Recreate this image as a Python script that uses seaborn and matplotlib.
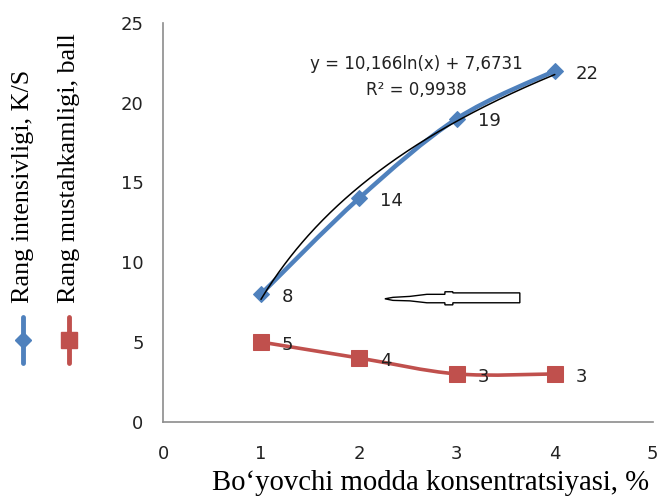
import numpy as np
import pandas as pd
import seaborn as sns
import matplotlib.pyplot as plt
from matplotlib.lines import Line2D
from matplotlib.patches import Polygon, PathPatch
from matplotlib.path import Path

# -----------------------------
# Data
# -----------------------------
conc = [1, 2, 3, 4]
intensity = [8, 14, 19, 22]
strength = [5, 4, 3, 3]
x_ticks = [0, 1, 2, 3, 4, 5]
y_ticks = [0, 5, 10, 15, 20, 25]
series_names = ['Rang intensivligi, K/S', 'Rang mustahkamligi, ball']
x_title = 'Bo\u2018yovchi modda konsentratsiyasi, %'

blue = '#4F81BD'
red = '#C0504D'
axis_grey = '#8C8C8C'

sns.set_style('white')
plt.rcParams['font.family'] = ['DejaVu Sans']

df = pd.DataFrame({'x': conc, 'intensity': intensity, 'strength': strength})


def smooth_path(xv, yv):
    # Excel-style smoothed line: bezier segments through the data points
    pts = np.column_stack([xv, yv]).astype(float)
    verts = [pts[0]]
    codes = [Path.MOVETO]
    n = len(pts)
    for i in range(n - 1):
        p0 = pts[max(i - 1, 0)]
        p1 = pts[i]
        p2 = pts[i + 1]
        p3 = pts[min(i + 2, n - 1)]
        verts += [p1 + (p2 - p0) / 6, p2 - (p3 - p1) / 6, p2]
        codes += [Path.CURVE4] * 3
    return Path(verts, codes)


fig = plt.figure(figsize=(6.6, 4.98), dpi=100)
ax = fig.add_axes([0.247, 0.153, 0.742, 0.801])

# -----------------------------
# Series (markers via seaborn, smoothed line as a path)
# -----------------------------
sns.lineplot(data=df, x='x', y='intensity', color=blue, lw=0, marker='D',
             markersize=8, markeredgecolor=blue, ax=ax, zorder=3)
sns.lineplot(data=df, x='x', y='strength', color=red, lw=0, marker='s',
             markersize=12, markeredgecolor=red, ax=ax, zorder=3)
ax.add_patch(PathPatch(smooth_path(df['x'], df['intensity']), fc='none',
                       ec=blue, lw=3.2, zorder=3, capstyle='round'))
ax.add_patch(PathPatch(smooth_path(df['x'], df['strength']), fc='none',
                       ec=red, lw=2.6, zorder=3, capstyle='round'))

# logarithmic trendline fitted to the intensity series
a, b = np.polyfit(np.log(df['x']), df['intensity'], 1)
xs = np.linspace(min(conc), max(conc), 200)
ax.plot(xs, a * np.log(xs) + b, color='black', lw=1.1, zorder=4)

r2 = np.corrcoef(np.log(df['x']), df['intensity'])[0, 1] ** 2
ax.text(2.59, 22.43, f'y = {a:.3f}ln(x) + {b:.4f}'.replace('.', ','),
        ha='center', va='center', fontsize=12, color='#222222')
ax.text(2.59, 20.8, f'R\u00b2 = {r2:.4f}'.replace('.', ','),
        ha='center', va='center', fontsize=12, color='#222222')

# data labels
for xv, yv in zip(conc, intensity):
    ax.annotate(str(yv), (xv, yv), xytext=(15, -2), textcoords='offset points',
                ha='left', va='center', fontsize=13, color='#222222')
for xv, yv in zip(conc, strength):
    ax.annotate(str(yv), (xv, yv), xytext=(15, -2), textcoords='offset points',
                ha='left', va='center', fontsize=13, color='#222222')

# hollow arrow pointing left
arrow_pts = [(2.265, 7.71), (2.347, 7.80), (2.520, 7.86), (2.694, 7.99),
             (2.878, 7.99), (2.878, 8.15), (2.959, 8.15), (2.959, 8.08),
             (3.643, 8.08), (3.643, 7.46), (2.959, 7.46), (2.959, 7.33),
             (2.878, 7.33), (2.878, 7.46), (2.694, 7.46), (2.520, 7.58),
             (2.347, 7.61)]
ax.add_patch(Polygon(arrow_pts, closed=True, fc='white', ec='black', lw=1.0, zorder=2))

# -----------------------------
# Axes styling
# -----------------------------
ax.set_xlim(0, 5)
ax.set_ylim(0, 25)
ax.set_xticks(x_ticks)
ax.set_yticks(y_ticks)
ax.tick_params(direction='out', length=5, width=1, color=axis_grey,
               labelsize=13, labelcolor='#222222')
ax.tick_params(axis='y', pad=9)
ax.tick_params(axis='x', pad=12)
for side in ['top', 'right']:
    ax.spines[side].set_visible(False)
for side in ['left', 'bottom']:
    ax.spines[side].set_color(axis_grey)
    ax.spines[side].set_linewidth(1.2)
ax.set_xlabel('')
ax.set_ylabel('')
fig.text(0.652, 0.004, x_title, ha='center', va='bottom',
         family='Liberation Serif', fontsize=20.7, color='black')

# -----------------------------
# Vertical legend on the left
# -----------------------------
legend_x = [23 / 660, 69 / 660]
legend_colors = [blue, red]
legend_markers = ['D', 's']
legend_sizes = [8, 11]
for lx, name, col, mk, ms in zip(legend_x, series_names, legend_colors,
                                 legend_markers, legend_sizes):
    fig.text(lx, 1 - 303 / 498, name, rotation=90, ha='center', va='bottom',
             family='Liberation Serif', fontsize=18.8, color='black')
    fig.add_artist(Line2D([lx, lx], [1 - 317 / 498, 1 - 363 / 498],
                          color=col, lw=3.5, transform=fig.transFigure))
    fig.add_artist(Line2D([lx], [1 - 340 / 498], color=col, marker=mk,
                          markersize=ms, markeredgecolor=col,
                          transform=fig.transFigure))

plt.savefig('out.png', dpi=100)
